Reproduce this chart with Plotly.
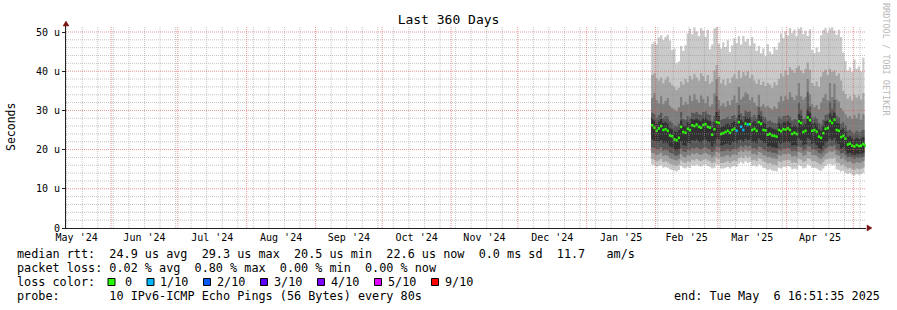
import pandas as pd
import plotly.graph_objects as go

# ---------------- data (values in microseconds, daily) ----------------
first_day = "2025-01-30"

median = [26.2, 25.6, 24.8, 25.4, 26.0, 25.0, 25.2, 24.8, 23.6, 23.4,
          22.6, 22.4, 23.0, 25.8, 24.5, 24.3, 25.3, 25.0, 26.2, 26.0,
          26.4, 25.8, 25.6, 26.3, 26.5, 25.8, 25.6, 23.8, 25.2, 27.0,
          26.8, 24.0, 24.2, 24.5, 24.8, 24.3, 25.0, 25.3, 24.8, 27.0,
          25.8, 25.0, 26.6, 26.4, 26.5, 25.0, 25.3, 24.8, 27.0, 26.6,
          25.0, 24.9, 23.8, 24.0, 23.6, 23.5, 23.3, 25.0, 24.7, 25.2,
          25.1, 25.4, 25.0, 24.0, 24.3, 24.0, 27.2, 26.8, 24.5, 24.8,
          28.2, 27.5, 24.8, 25.0, 24.6, 23.3, 23.0, 24.2, 25.3, 25.5,
          27.3, 26.8, 27.6, 25.0, 24.8, 23.2, 23.5, 22.8, 21.3, 21.5,
          21.0, 20.8, 21.2, 20.9, 21.0, 21.4, 21.0]

# lost pings out of 10 for each day
loss = [0] * 38 + [1, 0, 1, 1, 0, 1] + [0] * 53

p10 = [47.0, 47.5, 46.8, 48.6, 49.2, 48.0, 48.8, 49.3, 47.8, 45.4,
       45.8, 42.0, 42.5, 46.4, 45.2, 46.6, 49.6, 50.8, 49.4, 51.2,
       50.1, 49.0, 51.0, 50.4, 48.8, 50.6, 45.6, 46.8, 50.9, 51.3,
       47.0, 45.8, 47.4, 46.2, 47.9, 44.9, 46.6, 48.4, 47.2, 48.9,
       46.8, 49.0, 47.6, 48.3, 46.5, 48.7, 47.1, 45.2, 46.4, 44.6,
       45.8, 43.9, 46.9, 45.0, 44.4, 46.2, 45.5, 47.3, 49.6, 48.4,
       50.2, 49.1, 51.0, 49.7, 50.6, 48.9, 50.8, 51.2, 49.4, 50.3,
       49.0, 50.7, 45.4, 44.6, 46.0, 44.9, 49.2, 50.5, 51.1, 49.8,
       50.9, 51.2, 50.4, 49.3, 50.6, 48.7, 44.8, 42.6, 40.2, 41.0,
       39.8, 43.0, 40.6, 41.2, 39.9, 43.4, 41.0]

p9 = [39.0, 39.4, 38.2, 37.6, 38.4, 36.9, 37.8, 38.6, 37.2, 36.5,
      36.0, 35.2, 35.8, 37.4, 36.6, 38.0, 37.2, 38.8, 37.9, 39.2,
      38.4, 37.6, 39.5, 38.8, 37.5, 39.0, 36.8, 37.4, 40.2, 41.6,
      38.6, 36.9, 37.8, 36.4, 38.1, 37.0, 38.4, 39.2, 38.0, 40.2,
      38.3, 39.8, 38.9, 40.0, 38.2, 39.1, 37.6, 36.8, 37.9, 36.5,
      37.4, 36.2, 37.0, 36.6, 35.8, 37.2, 36.4, 38.0, 39.4, 38.6,
      40.2, 39.0, 41.0, 40.4, 39.6, 40.8, 41.4, 40.2, 39.5, 40.6,
      42.2, 40.4, 37.0, 36.2, 37.4, 36.0, 38.6, 39.8, 40.4, 39.0,
      40.6, 39.8, 40.2, 38.8, 39.4, 37.6, 35.0, 34.2, 33.0, 33.6,
      32.6, 34.0, 33.2, 33.8, 32.8, 34.4, 33.4]

p8 = [33.2, 34.4, 32.6, 31.8, 33.6, 31.6, 32.4, 33.1, 31.2, 30.6,
      30.2, 29.8, 30.8, 33.4, 31.4, 32.2, 31.6, 33.8, 32.4, 34.2,
      32.8, 32.0, 33.8, 32.9, 31.8, 33.6, 31.0, 31.6, 34.4, 38.0,
      32.6, 31.2, 31.8, 30.9, 32.4, 31.4, 32.6, 33.8, 32.0, 36.0,
      32.8, 33.5, 34.6, 34.2, 32.6, 33.4, 32.0, 31.2, 34.0, 31.0,
      31.6, 30.8, 31.2, 30.6, 30.2, 31.0, 30.4, 32.2, 33.6, 32.4,
      33.6, 32.8, 34.6, 33.4, 32.6, 33.8, 37.0, 33.6, 32.8, 33.4,
      38.0, 34.2, 31.6, 30.8, 31.4, 30.2, 32.0, 33.2, 34.2, 32.6,
      37.0, 33.4, 36.8, 32.8, 32.2, 30.6, 29.8, 29.0, 28.2, 28.6,
      27.8, 28.8, 28.0, 29.2, 27.6, 29.0, 28.2]

p7 = [29.4, 29.0, 28.2, 28.8, 29.4, 28.0, 28.6, 28.4, 27.2, 26.8,
      26.2, 26.0, 26.6, 29.6, 27.8, 27.6, 28.6, 28.2, 29.4, 29.2,
      29.6, 29.0, 28.8, 29.6, 29.8, 29.0, 28.8, 27.2, 28.6, 33.6,
      30.2, 27.6, 27.8, 28.0, 28.4, 27.8, 28.6, 28.8, 28.2, 31.4,
      29.2, 28.6, 30.0, 29.6, 29.8, 28.4, 28.8, 28.2, 30.8, 29.8,
      28.4, 28.2, 27.2, 27.4, 27.0, 26.8, 26.6, 28.4, 28.0, 28.6,
      28.6, 28.8, 28.4, 27.4, 27.8, 27.6, 32.0, 30.2, 27.8, 28.2,
      34.6, 31.0, 28.2, 28.4, 28.0, 26.8, 26.4, 27.6, 28.8, 29.0,
      32.2, 30.4, 32.6, 28.6, 28.2, 26.6, 27.0, 26.2, 24.8, 25.0,
      24.4, 24.2, 24.8, 24.4, 24.6, 25.0, 24.6]

p6 = [28.0, 27.4, 26.6, 27.2, 27.8, 26.8, 27.0, 26.6, 25.4, 25.2,
      24.6, 24.4, 25.0, 27.4, 26.2, 26.0, 27.0, 26.6, 27.8, 27.6,
      28.0, 27.4, 27.2, 28.0, 28.2, 27.4, 27.2, 25.6, 27.0, 29.6,
      28.6, 25.8, 26.0, 26.4, 26.6, 26.2, 26.8, 27.2, 26.6, 28.8,
      27.6, 27.0, 28.4, 28.0, 28.2, 26.8, 27.2, 26.6, 28.8, 28.4,
      26.8, 26.6, 25.6, 25.8, 25.4, 25.2, 25.0, 26.8, 26.4, 27.0,
      26.9, 27.2, 26.8, 25.8, 26.2, 25.9, 29.0, 28.6, 26.2, 26.6,
      30.2, 29.4, 26.6, 26.8, 26.4, 25.2, 24.8, 26.0, 27.2, 27.4,
      29.2, 28.6, 29.4, 26.8, 26.6, 25.0, 25.4, 24.6, 23.2, 23.4,
      22.8, 22.6, 23.0, 22.7, 22.8, 23.2, 22.8]

p5 = [22.6, 22.2, 21.8, 22.0, 22.4, 21.6, 21.8, 21.6, 20.8, 20.6,
      20.0, 19.8, 20.2, 22.0, 21.2, 21.0, 21.8, 21.6, 22.4, 22.2,
      22.6, 22.0, 21.8, 22.4, 22.6, 22.0, 21.8, 20.8, 21.6, 22.8,
      22.6, 21.0, 21.2, 21.4, 21.6, 21.2, 21.8, 22.0, 21.6, 22.4,
      22.6, 22.0, 22.8, 22.4, 22.6, 21.8, 22.0, 21.6, 22.8, 22.4,
      21.8, 21.6, 20.8, 21.0, 20.6, 20.6, 20.4, 21.8, 21.4, 21.8,
      21.8, 22.0, 21.8, 21.0, 21.2, 21.0, 22.8, 22.4, 21.2, 21.4,
      23.0, 22.6, 21.4, 21.6, 21.2, 20.4, 20.0, 21.0, 21.8, 22.0,
      22.8, 22.4, 23.0, 21.6, 21.4, 20.2, 20.6, 19.8, 19.0, 19.2,
      18.8, 18.6, 19.0, 18.8, 18.9, 19.2, 18.8]

p4 = [20.6, 20.4, 20.0, 20.2, 20.6, 19.8, 20.0, 19.8, 19.2, 19.0,
      18.6, 18.4, 18.8, 20.2, 19.6, 19.4, 20.0, 19.8, 20.4, 20.2,
      20.6, 20.2, 20.0, 20.4, 20.6, 20.2, 20.0, 19.4, 19.8, 20.8,
      20.6, 19.6, 19.6, 19.8, 20.0, 19.6, 20.0, 20.2, 20.0, 20.6,
      21.0, 20.6, 21.2, 20.8, 21.0, 20.2, 20.4, 20.0, 20.8, 20.6,
      20.0, 19.8, 19.4, 19.6, 19.2, 19.2, 19.0, 20.0, 19.8, 20.2,
      20.2, 20.4, 20.2, 19.6, 19.8, 19.6, 20.8, 20.6, 19.8, 20.0,
      21.0, 20.8, 20.0, 20.0, 19.8, 19.2, 19.0, 19.6, 20.2, 20.6,
      21.0, 20.8, 21.2, 20.0, 19.8, 19.0, 19.2, 18.6, 18.0, 18.2,
      17.8, 17.6, 18.0, 17.8, 17.9, 18.2, 17.8]

p3 = [19.2, 19.0, 18.6, 18.8, 19.2, 18.4, 18.6, 18.4, 17.8, 17.6,
      17.4, 17.2, 17.6, 18.8, 18.2, 18.0, 18.6, 18.4, 19.0, 18.8,
      19.2, 18.8, 18.6, 19.0, 19.2, 18.8, 18.6, 18.0, 18.4, 19.4,
      19.2, 18.2, 18.2, 18.4, 18.6, 18.2, 18.6, 18.8, 18.6, 19.4,
      19.8, 19.4, 20.0, 19.6, 19.8, 18.8, 19.0, 18.6, 19.4, 19.2,
      18.6, 18.4, 18.0, 18.2, 17.8, 17.8, 17.6, 18.6, 18.4, 18.8,
      18.8, 19.0, 18.8, 18.2, 18.4, 18.2, 19.4, 19.2, 18.4, 18.6,
      19.6, 19.4, 18.6, 18.6, 18.4, 17.8, 17.6, 18.2, 18.8, 19.2,
      19.6, 19.4, 19.8, 18.6, 18.4, 17.6, 17.8, 17.2, 16.8, 17.0,
      16.6, 16.4, 16.8, 16.6, 16.7, 17.0, 16.6]

p2 = [17.6, 17.4, 17.0, 17.2, 17.6, 16.8, 17.0, 16.8, 16.4, 16.2,
      16.0, 15.8, 16.2, 17.2, 16.8, 16.6, 17.0, 16.8, 17.4, 17.2,
      17.6, 17.2, 17.0, 17.4, 17.6, 17.2, 17.0, 16.6, 16.8, 17.8,
      17.6, 16.6, 16.6, 16.8, 17.0, 16.6, 17.0, 17.2, 17.0, 17.8,
      18.2, 17.8, 18.4, 18.0, 18.2, 17.2, 17.4, 17.0, 17.8, 17.6,
      17.0, 16.8, 16.4, 16.6, 16.2, 16.2, 16.0, 17.0, 16.8, 17.2,
      17.2, 17.4, 17.2, 16.6, 16.8, 16.6, 17.6, 17.4, 16.8, 17.0,
      17.8, 17.6, 17.0, 17.0, 16.8, 16.4, 16.2, 16.8, 17.4, 17.6,
      17.8, 17.6, 18.0, 16.8, 16.6, 16.0, 16.2, 15.6, 15.2, 15.4,
      15.0, 14.8, 15.2, 15.0, 15.1, 15.4, 15.0]

p1 = [16.2, 16.0, 15.6, 15.8, 16.0, 15.4, 15.6, 15.4, 15.0, 14.8,
      14.6, 14.4, 14.8, 15.8, 15.4, 15.2, 15.6, 15.4, 16.0, 15.8,
      16.2, 15.8, 15.6, 16.0, 16.2, 15.8, 15.6, 15.2, 15.4, 16.2,
      16.0, 15.2, 15.2, 15.4, 15.6, 15.2, 15.6, 15.8, 15.6, 16.4,
      16.8, 16.4, 17.0, 16.6, 16.8, 15.8, 16.0, 15.6, 16.2, 16.0,
      15.4, 15.2, 14.8, 15.0, 14.6, 14.6, 14.4, 15.4, 15.2, 15.6,
      15.6, 15.8, 15.6, 15.0, 15.2, 15.0, 16.0, 15.8, 15.2, 15.4,
      16.2, 16.0, 15.4, 15.4, 15.2, 14.8, 14.6, 15.2, 15.8, 16.2,
      16.4, 16.0, 16.2, 15.0, 14.8, 14.4, 14.6, 14.0, 13.8, 14.0,
      13.6, 13.4, 13.8, 13.6, 13.7, 14.0, 13.6]

y_tick_values = [0, 10, 20, 30, 40, 50]
y_tick_labels = ["0", "10 u", "20 u", "30 u", "40 u", "50 u"]
month_labels = ["May '24", "Jun '24", "Jul '24", "Aug '24", "Sep '24", "Oct '24",
                "Nov '24", "Dec '24", "Jan '25", "Feb '25", "Mar '25", "Apr '25"]
loss_levels = ["0", "1/10", "2/10", "3/10", "4/10", "5/10", "9/10"]
loss_level_colors = ["#26ff00", "#00b8ff", "#0059ff", "#5e00ff", "#7e00ff", "#dd00ff", "#ff0000"]

title_text = "Last 360 Days"
y_title = "Seconds"
legend_rows = [
    "median rtt:  24.9 us avg  29.3 us max  20.5 us min  22.6 us now  0.0 ms sd  11.7   am/s",
    "packet loss: 0.02 % avg  0.80 % max  0.00 % min  0.00 % now",
    "loss color:",
    "probe:       10 IPv6-ICMP Echo Pings (56 Bytes) every 80s",
]
end_text = "end: Tue May  6 16:51:35 2025"
watermark = "RRDTOOL / TOBI OETIKER"

range_start = pd.Timestamp("2024-05-11 16:51:35")
range_end = pd.Timestamp("2025-05-06 16:51:35")
y_max = 51.53

# ---------------- layout constants ----------------
W, H = 897, 310
ML, MR, MT, MB = 66, 31, 26, 82
PW, PH = W - ML - MR, H - MT - MB
MONO = "DejaVu Sans Mono"


def px(x):
    return (x - ML) / PW


def py(y):
    return (MT + PH - y) / PH


def nb(s):
    return s.replace(" ", "\u00a0")


dates = pd.date_range(first_day, periods=len(median), freq="D")
one_day = pd.Timedelta(days=1)
fig = go.Figure()

# smoke bands (outermost first)
bands = [(p1, p10, "#cacaca"), (p2, p9, "#a4a4a4"), (p3, p8, "#7e7e7e"),
         (p4, p7, "#585858"), (p5, p6, "#323232")]
for lo, hi, col in bands:
    fig.add_trace(go.Scatter(x=dates, y=lo, mode="lines", line=dict(width=0, shape="hv"),
                             hoverinfo="skip", showlegend=False))
    fig.add_trace(go.Scatter(x=dates, y=hi, mode="lines", line=dict(width=0, shape="hv"),
                             fill="tonexty", fillcolor=col, hoverinfo="skip", showlegend=False))

# median marks (short horizontal dashes), coloured by loss level
for lvl, col in enumerate(loss_level_colors):
    xs, ys = [], []
    for d, m, l in zip(dates, median, loss):
        if min(l, 6) == lvl:
            xs += [d, d + one_day, None]
            ys += [m, m, None]
    if xs:
        fig.add_trace(go.Scatter(x=xs, y=ys, mode="lines", line=dict(color=col, width=2.6),
                                 hoverinfo="skip", showlegend=False, connectgaps=False))

# grid drawn on top of the graph (rrdtool style)
month_starts = pd.date_range("2024-05-01", "2025-06-01", freq="MS")
major_v = [d for d in month_starts if range_start < d < range_end]
minor_v = [d for d in pd.date_range("2024-05-12", range_end, freq="7D") if d not in major_v]


def vlines(ds):
    xs, ys = [], []
    for d in ds:
        xs += [d, d, None]
        ys += [0, y_max, None]
    return xs, ys


def hlines(vals):
    xs, ys = [], []
    for v in vals:
        xs += [range_start, range_end, None]
        ys += [v, v, None]
    return xs, ys


minor_h = [v for v in range(2, 52, 2) if v % 10]
major_h = [10, 20, 30, 40, 50]
grid_minor = "rgba(150,150,150,0.55)"
grid_major = "rgba(222,80,80,0.6)"
for (xs, ys), col in [(vlines(minor_v), grid_minor), (hlines(minor_h), grid_minor),
                      (vlines(major_v), grid_major), (hlines(major_h), grid_major)]:
    fig.add_trace(go.Scatter(x=xs, y=ys, mode="lines", line=dict(color=col, width=1, dash="1px,1px"),
                             hoverinfo="skip", showlegend=False, connectgaps=False))

# month labels centred in each month
mids = [month_starts[i] + (month_starts[i + 1] - month_starts[i]) / 2 for i in range(len(month_labels))]

fig.update_layout(
    width=W, height=H, margin=dict(l=ML, r=MR, t=MT, b=MB, pad=0),
    paper_bgcolor="white", plot_bgcolor="white",
    font=dict(family=MONO, size=10, color="black"),
    showlegend=False,
    title=dict(text=title_text, x=0.5, xref="container", xanchor="center",
               y=1 - 19 / H, yref="container", yanchor="middle",
               font=dict(family=MONO, size=13, color="black")),
    xaxis=dict(range=[range_start, range_end], showgrid=False, zeroline=False,
               tickvals=mids, ticktext=month_labels, ticks="",
               showline=True, linecolor="#202020", linewidth=1,
               tickfont=dict(family=MONO, size=10, color="black")),
    yaxis=dict(range=[0, y_max], showgrid=False, zeroline=False,
               tickvals=y_tick_values, ticktext=y_tick_labels,
               ticks="outside", ticklen=3, tickcolor="#202020",
               showline=True, linecolor="#202020", linewidth=1,
               tickfont=dict(family=MONO, size=10, color="black")),
)

ann = []
ann.append(dict(text=y_title, x=px(11), y=py(127), xref="paper", yref="paper", showarrow=False,
                textangle=-90, font=dict(family=MONO, size=11.5, color="black"),
                xanchor="center", yanchor="middle"))
ann.append(dict(text=watermark, x=px(886), y=py(60), xref="paper", yref="paper", showarrow=False,
                textangle=90, font=dict(family=MONO, size=8.5, color="#b8b8b8"),
                xanchor="center", yanchor="middle"))
row_y = [254, 268, 282, 296]
for txt, yy in zip(legend_rows, row_y):
    ann.append(dict(text=nb(txt), x=px(15.5), y=py(yy), xref="paper", yref="paper", showarrow=False,
                    xanchor="left", yanchor="middle", borderpad=0,
                    font=dict(family=MONO, size=11.8, color="black")))
ann.append(dict(text=nb(end_text), x=px(881), y=py(296), xref="paper", yref="paper", showarrow=False,
                xanchor="right", yanchor="middle", borderpad=0,
                font=dict(family=MONO, size=11.8, color="black")))

shapes = []
box_x = [108, 147, 203.5, 260.5, 317.5, 374.5, 431.5]
for i, (lab, col) in enumerate(zip(loss_levels, loss_level_colors)):
    bx = box_x[i]
    shapes.append(dict(type="rect", xref="paper", yref="paper", x0=px(bx), x1=px(bx + 7),
                       y0=py(285.5), y1=py(278.5), fillcolor=col, line=dict(color="black", width=1)))
    tx = bx + (15.5 if lab == "0" else 12)
    ann.append(dict(text=lab, x=px(tx), y=py(282), xref="paper", yref="paper", showarrow=False,
                    xanchor="left", yanchor="middle", borderpad=0,
                    font=dict(family=MONO, size=11.8, color="black")))

# axis arrows
arrow_col = "#7a1414"
shapes.append(dict(type="path", xref="paper", yref="paper", xsizemode="pixel", ysizemode="pixel",
                   xanchor=px(867), yanchor=0, path="M0,-3 L0,3 L5,0 Z",
                   fillcolor=arrow_col, line=dict(color=arrow_col, width=0.5)))
shapes.append(dict(type="path", xref="paper", yref="paper", xsizemode="pixel", ysizemode="pixel",
                   xanchor=0, yanchor=1, path="M-3,0 L3,0 L0,5 Z",
                   fillcolor=arrow_col, line=dict(color=arrow_col, width=0.5)))

fig.update_layout(annotations=ann, shapes=shapes)
fig.write_html("out.html")
